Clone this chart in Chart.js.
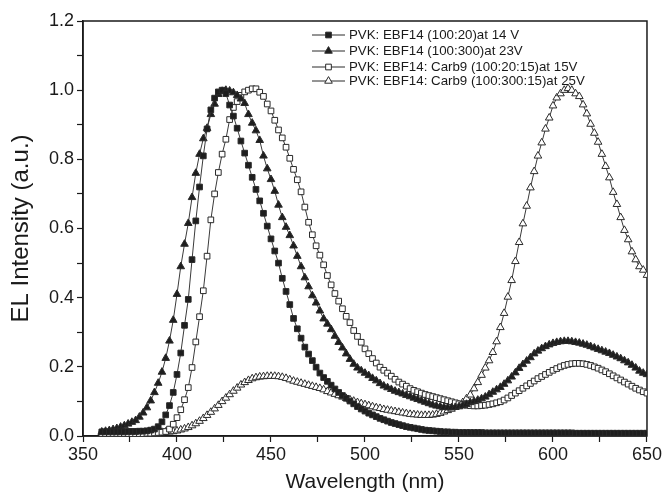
<!DOCTYPE html>
<html>
<head>
<meta charset="utf-8">
<script src="https://cdn.jsdelivr.net/npm/chart.js@4"></script>
<style>
  html, body { margin: 0; padding: 0; background: #fff; }
</style>
</head>
<body>
<canvas id="elChart" width="664" height="493"></canvas>
<script>
// ----------------------
//  DATA
// ----------------------
const wavelength = [
  360, 362, 364, 366, 368, 370, 372, 374, 376, 378,
  380, 382, 384, 386, 388, 390, 392, 394, 396, 398,
  400, 402, 404, 406, 408, 410, 412, 414, 416, 418,
  420, 422, 424, 426, 428, 430, 432, 434, 436, 438,
  440, 442, 444, 446, 448, 450, 452, 454, 456, 458,
  460, 462, 464, 466, 468, 470, 472, 474, 476, 478,
  480, 482, 484, 486, 488, 490, 492, 494, 496, 498,
  500, 502, 504, 506, 508, 510, 512, 514, 516, 518,
  520, 522, 524, 526, 528, 530, 532, 534, 536, 538,
  540, 542, 544, 546, 548, 550, 552, 554, 556, 558,
  560, 562, 564, 566, 568, 570, 572, 574, 576, 578,
  580, 582, 584, 586, 588, 590, 592, 594, 596, 598,
  600, 602, 604, 606, 608, 610, 612, 614, 616, 618,
  620, 622, 624, 626, 628, 630, 632, 634, 636, 638,
  640, 642, 644, 646, 648, 650
];

// PVK: EBF14 (100:20) at 14 V  - filled squares
const ebf20 = [
  0.012, 0.012, 0.012, 0.012, 0.012, 0.012, 0.012, 0.013, 0.013, 0.013,
  0.014, 0.014, 0.015, 0.017, 0.020, 0.027, 0.041, 0.061, 0.088, 0.126,
  0.178, 0.240, 0.320, 0.395, 0.510, 0.622, 0.720, 0.810, 0.888, 0.943,
  0.977, 0.995, 1.000, 0.990, 0.957, 0.925, 0.890, 0.853, 0.818, 0.783,
  0.748, 0.713, 0.680, 0.644, 0.607, 0.570, 0.535, 0.500, 0.456, 0.418,
  0.380, 0.340, 0.310, 0.283, 0.257, 0.237, 0.218, 0.199, 0.182, 0.169,
  0.158, 0.147, 0.136, 0.126, 0.117, 0.109, 0.101, 0.093, 0.085, 0.078,
  0.072, 0.066, 0.061, 0.056, 0.051, 0.047, 0.043, 0.039, 0.036, 0.033,
  0.030, 0.027, 0.025, 0.023, 0.021, 0.019, 0.017, 0.016, 0.015, 0.014,
  0.013, 0.012, 0.012, 0.011, 0.011, 0.010, 0.010, 0.010, 0.010, 0.010,
  0.010, 0.010, 0.009, 0.009, 0.009, 0.009, 0.009, 0.009, 0.009, 0.009,
  0.009, 0.009, 0.009, 0.009, 0.009, 0.009, 0.009, 0.009, 0.009, 0.009,
  0.009, 0.009, 0.009, 0.009, 0.009, 0.009, 0.008, 0.008, 0.008, 0.008,
  0.008, 0.008, 0.008, 0.008, 0.008, 0.008, 0.008, 0.008, 0.008, 0.008,
  0.008, 0.008, 0.008, 0.008, 0.008, 0.008
];

// PVK: EBF14 (100:300) at 23V  - filled triangles
const ebf300 = [
  0.012, 0.014, 0.016, 0.019, 0.022, 0.026, 0.030, 0.035, 0.040, 0.045,
  0.055, 0.067, 0.082, 0.102, 0.126, 0.153, 0.185, 0.225, 0.275, 0.335,
  0.410, 0.490, 0.555, 0.615, 0.690, 0.760, 0.815, 0.860, 0.890, 0.930,
  0.960, 0.988, 0.997, 1.000, 0.998, 0.993, 0.985, 0.975, 0.962, 0.930,
  0.905, 0.883, 0.855, 0.810, 0.773, 0.742, 0.708, 0.668, 0.632, 0.604,
  0.580, 0.550, 0.520, 0.490, 0.458, 0.432, 0.406, 0.385, 0.362, 0.339,
  0.324, 0.308, 0.289, 0.271, 0.255, 0.238, 0.222, 0.208, 0.197, 0.189,
  0.182, 0.175, 0.167, 0.160, 0.152, 0.145, 0.140, 0.135, 0.130, 0.126,
  0.122, 0.118, 0.114, 0.110, 0.106, 0.102, 0.098, 0.094, 0.090, 0.087,
  0.085, 0.083, 0.082, 0.082, 0.083, 0.085, 0.088, 0.092, 0.097, 0.100,
  0.104, 0.108, 0.113, 0.120, 0.127, 0.134, 0.141, 0.150, 0.160, 0.171,
  0.183, 0.196, 0.207, 0.217, 0.227, 0.238, 0.246, 0.253, 0.259, 0.264,
  0.268, 0.271, 0.273, 0.274, 0.274, 0.273, 0.271, 0.269, 0.266, 0.263,
  0.259, 0.255, 0.251, 0.247, 0.243, 0.239, 0.234, 0.229, 0.224, 0.218,
  0.212, 0.205, 0.197, 0.188, 0.182, 0.178
];

// PVK: EBF14: Carb9 (100:20:15) at 15V  - open squares
const carb20 = [
  0.007, 0.007, 0.007, 0.007, 0.007, 0.007, 0.007, 0.007, 0.007, 0.007,
  0.007, 0.007, 0.008, 0.008, 0.009, 0.010, 0.011, 0.013, 0.020, 0.034,
  0.053, 0.076, 0.105, 0.140, 0.198, 0.272, 0.345, 0.420, 0.520, 0.625,
  0.700, 0.762, 0.815, 0.858, 0.915, 0.950, 0.967, 0.985, 0.995, 1.000,
  1.004, 1.004, 0.994, 0.982, 0.960, 0.940, 0.913, 0.885, 0.862, 0.835,
  0.803, 0.771, 0.741, 0.706, 0.662, 0.618, 0.582, 0.550, 0.523, 0.495,
  0.464, 0.437, 0.412, 0.390, 0.368, 0.346, 0.328, 0.305, 0.288, 0.271,
  0.252, 0.238, 0.224, 0.211, 0.199, 0.190, 0.182, 0.173, 0.164, 0.156,
  0.150, 0.144, 0.137, 0.132, 0.128, 0.124, 0.120, 0.117, 0.114, 0.111,
  0.108, 0.105, 0.102, 0.099, 0.096, 0.093, 0.091, 0.089, 0.088, 0.087,
  0.087, 0.088, 0.089, 0.091, 0.093, 0.096, 0.099, 0.104, 0.110, 0.117,
  0.124, 0.131, 0.138, 0.145, 0.152, 0.159, 0.166, 0.172, 0.178, 0.184,
  0.190, 0.195, 0.200, 0.204, 0.207, 0.209, 0.210, 0.210, 0.209, 0.207,
  0.204, 0.200, 0.196, 0.191, 0.186, 0.180, 0.174, 0.168, 0.162, 0.156,
  0.150, 0.144, 0.138, 0.133, 0.128, 0.124
];

// PVK: EBF14: Carb9 (100:300:15) at 25V  - open triangles
const carb300 = [
  0.010, 0.010, 0.010, 0.010, 0.010, 0.010, 0.010, 0.010, 0.010, 0.010,
  0.010, 0.010, 0.010, 0.011, 0.011, 0.011, 0.011, 0.012, 0.012, 0.013,
  0.015, 0.018, 0.021, 0.025, 0.030, 0.036, 0.043, 0.051, 0.060, 0.069,
  0.079, 0.089, 0.100, 0.110, 0.120, 0.130, 0.139, 0.148, 0.155, 0.161,
  0.166, 0.169, 0.171, 0.172, 0.173, 0.173, 0.173, 0.172, 0.170, 0.167,
  0.163, 0.159, 0.156, 0.153, 0.150, 0.147, 0.144, 0.141, 0.138, 0.134,
  0.129, 0.125, 0.121, 0.117, 0.113, 0.109, 0.105, 0.101, 0.097, 0.094,
  0.091, 0.088, 0.085, 0.082, 0.080, 0.077, 0.075, 0.073, 0.071, 0.069,
  0.067, 0.065, 0.063, 0.062, 0.061, 0.060, 0.060, 0.060, 0.061, 0.063,
  0.066, 0.070, 0.074, 0.078, 0.083, 0.090, 0.097, 0.108, 0.119, 0.137,
  0.155, 0.176, 0.197, 0.218, 0.242, 0.273, 0.314, 0.355, 0.402, 0.450,
  0.505, 0.560, 0.614, 0.665, 0.718, 0.765, 0.810, 0.848, 0.888, 0.920,
  0.955, 0.978, 0.990, 1.000, 1.005, 1.000, 0.990, 0.982, 0.958, 0.932,
  0.902, 0.876, 0.850, 0.815, 0.780, 0.747, 0.705, 0.670, 0.632, 0.595,
  0.568, 0.533, 0.510, 0.490, 0.480, 0.465
];

const seriesLabels = [
  'PVK: EBF14 (100:20)at 14 V',
  'PVK: EBF14 (100:300)at 23V',
  'PVK: EBF14: Carb9 (100:20:15)at 15V',
  'PVK: EBF14: Carb9 (100:300:15)at 25V'
];

const xTickLabels = ['350', '400', '450', '500', '550', '600', '650'];
const yTickLabels = ['0.0', '0.2', '0.4', '0.6', '0.8', '1.0', '1.2'];

// ----------------------
//  CHART
// ----------------------
const FONT = "'Liberation Sans', Arial, sans-serif";
const INK = '#1a1a1a';

function toPoints(values) {
    return values.map((v, i) => ({ x: wavelength[i], y: v }));
}

function makeDataset(label, values, style, filled, radius) {
    return {
        label: label,
        data: toPoints(values),
        borderColor: '#3a3a3a',
        borderWidth: 1,
        pointStyle: style,
        pointRadius: radius,
        pointBorderWidth: 1,
        pointBorderColor: '#2a2a2a',
        pointBackgroundColor: filled ? '#1e1e1e' : '#ffffff',
        tension: 0,
        fill: false,
    };
}

const datasets = [
    makeDataset(seriesLabels[0], ebf20, 'rect', true, 4),
    makeDataset(seriesLabels[1], ebf300, 'triangle', true, 4.4),
    makeDataset(seriesLabels[2], carb20, 'rect', false, 4),
    makeDataset(seriesLabels[3], carb300, 'triangle', false, 4.4),
];

// box round the plot area
const frame = {
    id: 'frame',
    beforeDatasetsDraw(chart) {
        const { ctx, chartArea: a } = chart;
        ctx.save();
        ctx.strokeStyle = INK;
        ctx.lineWidth = 1.5;
        ctx.strokeRect(a.left, a.top, a.right - a.left, a.bottom - a.top);
        ctx.restore();
    }
};

// legend sitting inside the plot, top right
const insetLegend = {
    id: 'insetLegend',
    afterDraw(chart) {
        const ctx = chart.ctx;
        const rowsY = [35, 51, 67, 81];
        const lineX0 = 312, lineX1 = 345, textX = 349;
        ctx.save();
        chart.data.datasets.forEach((ds, i) => {
            const y = rowsY[i];
            ctx.strokeStyle = '#2a2a2a';
            ctx.lineWidth = 1;
            ctx.beginPath();
            ctx.moveTo(lineX0, y);
            ctx.lineTo(lineX1, y);
            ctx.stroke();
            ctx.fillStyle = ds.pointBackgroundColor;
            ctx.strokeStyle = ds.pointBorderColor;
            Chart.helpers.drawPoint(ctx, {
                pointStyle: ds.pointStyle,
                radius: ds.pointRadius,
                borderWidth: 1,
                rotation: 0
            }, (lineX0 + lineX1) / 2, y);
            ctx.fillStyle = INK;
            ctx.font = '13.3px ' + FONT;
            ctx.textBaseline = 'middle';
            ctx.textAlign = 'left';
            ctx.fillText(ds.label, textX, y);
        });
        ctx.restore();
    }
};

const options = {
    responsive: false,
    animation: false,
    layout: { padding: { top: 21, right: 16, bottom: 0, left: 0 } },
    plugins: {
        legend: { display: false },
        tooltip: { enabled: false },
    },
    scales: {
        x: {
            type: 'linear',
            min: 350,
            max: 650,
            afterFit: (s) => { s.height = 57; },
            ticks: {
                stepSize: 25,
                autoSkip: false,
                maxRotation: 0,
                padding: 2,
                color: INK,
                font: { family: FONT, size: 18 },
                callback: function (value) {
                    const t = String(Math.round(value));
                    return xTickLabels.includes(t) ? t : '';
                }
            },
            grid: { drawOnChartArea: false, tickLength: 6, tickColor: INK, tickWidth: 1.2 },
            border: { color: INK, width: 1.5 },
            title: {
                display: true,
                text: 'Wavelength (nm)',
                color: INK,
                font: { family: FONT, size: 21, lineHeight: 1 },
                padding: { top: 0, bottom: 0 }
            }
        },
        y: {
            min: 0,
            max: 1.2,
            afterFit: (s) => { s.width = 83; },
            ticks: {
                stepSize: 0.1,
                autoSkip: false,
                padding: 3,
                color: INK,
                font: { family: FONT, size: 18 },
                callback: function (value) {
                    const t = value.toFixed(1);
                    return yTickLabels.includes(t) ? t : '';
                }
            },
            grid: { drawOnChartArea: false, tickLength: 6, tickColor: INK, tickWidth: 1.2 },
            border: { color: INK, width: 1.5 },
            title: {
                display: true,
                text: 'EL Intensity (a.u.)',
                color: INK,
                font: { family: FONT, size: 24, lineHeight: 1 },
                padding: { top: 9, bottom: 0 }
            }
        }
    }
};

const ctx = document.getElementById('elChart').getContext('2d');
const elChart = new Chart(ctx, {
    type: 'line',
    data: { datasets: datasets },
    options: options,
    plugins: [frame, insetLegend],
});
</script>
</body>
</html>
